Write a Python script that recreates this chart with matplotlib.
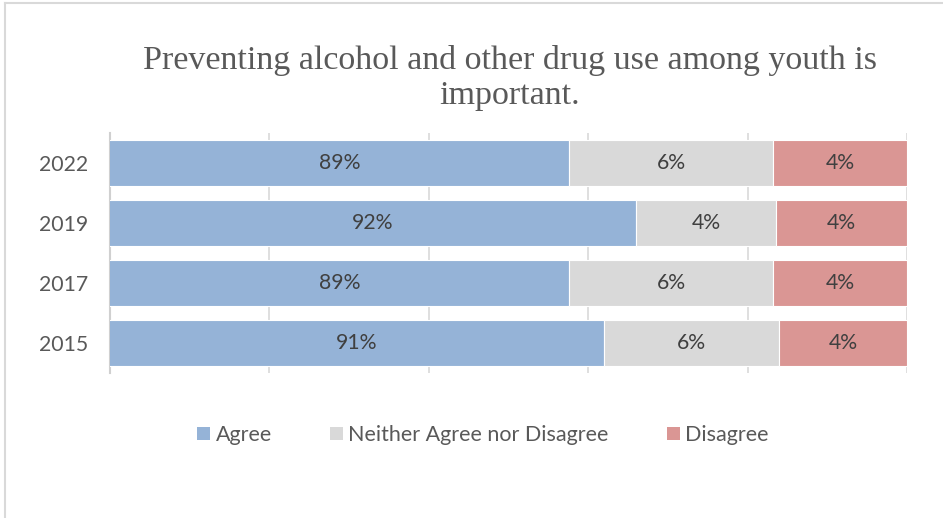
import matplotlib.pyplot as plt
from matplotlib.lines import Line2D
from matplotlib.patches import Patch

# survey results, share of respondents by year
years = ['2015', '2017', '2019', '2022']
agree = [0.905, 0.894, 0.915, 0.894]
neither = [0.055, 0.064, 0.044, 0.064]
disagree = [0.040, 0.042, 0.041, 0.042]
agree_lbl = ['91%', '89%', '92%', '89%']
neither_lbl = ['6%', '6%', '4%', '6%']
disagree_lbl = ['4%', '4%', '4%', '4%']

series = ['Agree', 'Neither Agree nor Disagree', 'Disagree']
colors = ['#95B3D7', '#D9D9D9', '#DA9694']

xmin, xmax = 0.75, 1.0

fig = plt.figure(figsize=(9.43, 5.18), dpi=100)
ax = fig.add_axes([110 / 943, 1 - 373 / 518, 797 / 943, 240 / 518])

sans = ['Lato', 'DejaVu Sans']
pos = range(len(years))
left = [0.0] * len(years)
for vals, lbls, col in zip([agree, neither, disagree],
                           [agree_lbl, neither_lbl, disagree_lbl], colors):
    ax.barh(pos, vals, left=left, height=0.767, color=col,
            edgecolor='white', linewidth=0.8, zorder=3)
    for i, (v, l, t) in enumerate(zip(vals, left, lbls)):
        a = max(l, xmin)
        b = min(l + v, xmax)
        ax.text((a + b) / 2, i, t, ha='center', va='center',
                fontsize=15.3, color='#404040', family=sans, zorder=4)
    left = [l + v for l, v in zip(left, vals)]

ax.set_xlim(xmin, xmax)
ax.set_ylim(-0.5, len(years) - 0.5)
ax.set_xticks([0.75, 0.80, 0.85, 0.90, 0.95, 1.0])
ax.tick_params(axis='x', length=0, labelbottom=False)
ax.tick_params(axis='y', length=0, pad=16)
ax.set_yticks(list(pos))
ax.set_yticklabels(years, fontsize=15.3, color='#595959', family=sans)
ax.grid(axis='x', color='#D9D9D9', linewidth=1.2, zorder=0)
for s in ['top', 'right', 'bottom']:
    ax.spines[s].set_visible(False)
ax.spines['left'].set_color('#D0D0D0')
ax.spines['left'].set_linewidth(1.5)

fig.text(510 / 943, 1 - 78 / 518,
         'Preventing alcohol and other drug use among youth is\nimportant.',
         ha='center', va='center', fontsize=24.5, color='#595959',
         family=['Liberation Serif', 'DejaVu Serif'], linespacing=1.22)

handles = [Patch(facecolor=c, edgecolor='none') for c in colors]
fig.legend(handles, series, loc='center', bbox_to_anchor=(483 / 943, 1 - 435 / 518),
           ncol=3, frameon=False, handlelength=0.6, handleheight=0.6,
           handletextpad=0.25, columnspacing=2.7,
           prop={'family': sans, 'size': 15.5}, labelcolor='#595959')

# chart area border
fig.add_artist(Line2D([5 / 943, 5 / 943], [0, 1 - 3 / 518], color='#D9D9D9', linewidth=1.5))
fig.add_artist(Line2D([5 / 943, 1], [1 - 3 / 518, 1 - 3 / 518], color='#D9D9D9', linewidth=1.5))

fig.savefig('out.png', dpi=100)
